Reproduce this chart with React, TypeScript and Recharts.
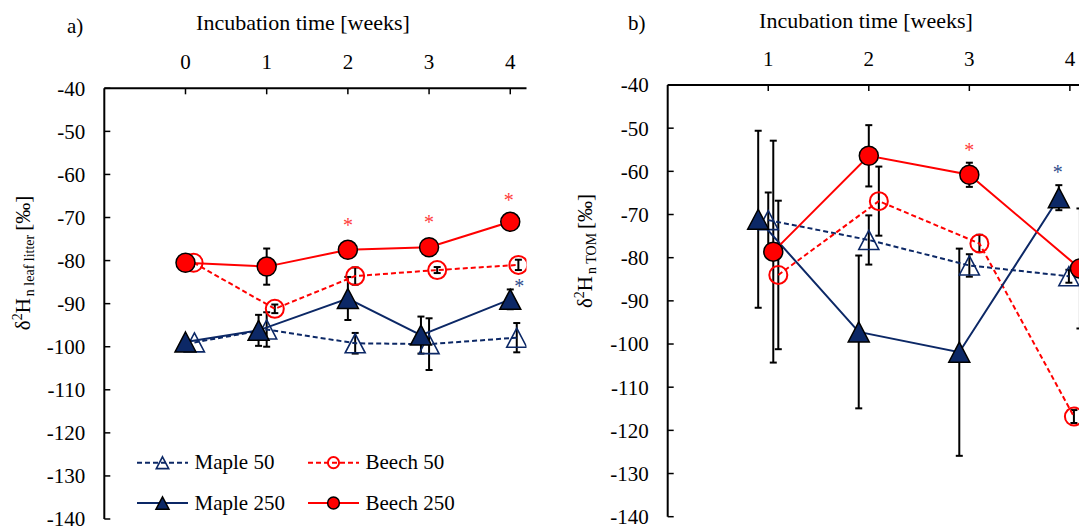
import React from 'react';
import { ComposedChart, Scatter, XAxis, YAxis, ErrorBar, Legend } from 'recharts';

const FONT = '"Liberation Serif", "Times New Roman", serif';
const NAVY = '#0c2866';
const NAVY_STAR = '#2f4c8c';
const RED = '#ff0000';
const RED_STAR = '#ff3b3b';

// shared axis ticks
const yTicks = [-140, -130, -120, -110, -100, -90, -80, -70, -60, -50, -40];
const weeksA = [0, 1, 2, 3, 4];
const weeksB = [1, 2, 3, 4];

// a) leaf litter  (x = week incl. small offset used in the figure)
const maple50AX = [0.11, 1.0, 2.09, 3.0, 4.08];
const maple50AY = [-99.0, -96.0, -99.2, -99.4, -97.9];
const maple50AErr = [0, 4.0, 2.4, 6.0, 3.4];

const beech50AX = [0.1, 1.1, 2.09, 3.1, 4.1];
const beech50AY = [-80.5, -91.2, -83.6, -82.2, -81.0];
const beech50AErr = [0, 1.0, 2.0, 0.7, 1.2];

const maple250AX = [0, 0.9, 2.0, 2.9, 4.0];
const maple250AY = [-98.9, -96.2, -88.8, -97.3, -89.0];
const maple250AErr = [0, 3.6, 5.0, 4.3, 2.3];

const beech250AX = [0, 1, 2, 3, 4];
const beech250AY = [-80.5, -81.4, -77.5, -76.9, -71.0];
const beech250AErr = [0, 4.2, 0, 0, 0];

const redStarsAX = [2, 3, 3.98];
const redStarsAY = [-71.2, -70.6, -65.4];
const navyStarsAX = [4.11];
const navyStarsAY = [-85.4];

// b) TOM
const maple50BX = [1.0, 2.0, 3.0, 3.99];
const maple50BY = [-71.3, -75.9, -81.8, -84.3];
const maple50BErr = [6.4, 5.7, 2.6, 1.5];

const beech50BX = [1.1, 2.1, 3.1, 4.04];
const beech50BY = [-84.0, -66.9, -76.7, -116.8];
const beech50BErr = [17.2, 8.0, 2.0, 1.5];

const maple250BX = [0.9, 1.9, 2.9, 3.89];
const maple250BY = [-71.1, -97.2, -101.9, -66.1];
const maple250BErr = [20.5, 17.7, 24.0, 2.9];

const beech250BX = [1.05, 2.0, 3.0, 4.1];
const beech250BY = [-78.6, -56.4, -60.8, -82.5];
const beech250BErr = [25.7, 7.1, 2.8, 13.9];

const redStarsBX = [3.0];
const redStarsBY = [-54.7];
const navyStarsBX = [3.88];
const navyStarsBY = [-59.7];

type Pt = { x: number; y: number; e: number };
const toPoints = (xs: number[], ys: number[], es?: number[]): Pt[] =>
  xs.map((x, i) => ({ x, y: ys[i], e: es ? es[i] : 0 }));

type Kind = 'openTri' | 'openCircle' | 'tri' | 'circle';

const triPath = (cx: number, cy: number, hw: number, hh: number) =>
  `M${cx},${cy - hh}L${cx + hw},${cy + hh}L${cx - hw},${cy + hh}Z`;

function Marker({ kind, cx, cy, s = 1 }: { kind: Kind; cx: number; cy: number; s?: number }) {
  if (kind === 'openTri')
    return <path d={triPath(cx, cy, 10 * s, 9.5 * s)} fill="none" stroke={NAVY} strokeWidth={1.6} />;
  if (kind === 'tri')
    return <path d={triPath(cx, cy, 10.5 * s, 10 * s)} fill={NAVY} stroke="#000" strokeWidth={1.5} />;
  if (kind === 'openCircle')
    return <circle cx={cx} cy={cy} r={9 * s} fill="none" stroke={RED} strokeWidth={2} />;
  return <circle cx={cx} cy={cy} r={9.5 * s} fill={RED} stroke="#000" strokeWidth={1.5} />;
}

const series = [
  { key: 'maple50', name: 'Maple 50', color: NAVY, dash: '5 3', kind: 'openTri' as Kind },
  { key: 'beech50', name: 'Beech 50', color: RED, dash: '5 3', kind: 'openCircle' as Kind },
  { key: 'maple250', name: 'Maple 250', color: NAVY, dash: undefined, kind: 'tri' as Kind },
  { key: 'beech250', name: 'Beech 250', color: RED, dash: undefined, kind: 'circle' as Kind },
];

const dataA: Record<string, Pt[]> = {
  maple50: toPoints(maple50AX, maple50AY, maple50AErr),
  beech50: toPoints(beech50AX, beech50AY, beech50AErr),
  maple250: toPoints(maple250AX, maple250AY, maple250AErr),
  beech250: toPoints(beech250AX, beech250AY, beech250AErr),
};

const dataB: Record<string, Pt[]> = {
  maple50: toPoints(maple50BX, maple50BY, maple50BErr),
  beech50: toPoints(beech50BX, beech50BY, beech50BErr),
  maple250: toPoints(maple250BX, maple250BY, maple250BErr),
  beech250: toPoints(beech250BX, beech250BY, beech250BErr),
};

const tickStyle = { fill: '#000', fontSize: 21, fontFamily: FONT };
const axisLineStyle = { stroke: '#000', strokeWidth: 2 };
const tickLineStyle = { stroke: '#000', strokeWidth: 1.5 };

function TopTitle({ tag, tagX, tagY, midX, baseY }: { tag: string; tagX: number; tagY: number; midX: number; baseY: number }) {
  return (
    <g fontFamily={FONT} fill="#000">
      <text x={tagX} y={tagY} fontSize={21}>{tag}</text>
      <text x={midX} y={baseY} fontSize={22} textAnchor="middle">Incubation time [weeks]</text>
    </g>
  );
}

function SideTitle({ atX, atY, sub }: { atX: number; atY: number; sub: string }) {
  return (
    <text transform={`translate(${atX},${atY}) rotate(-90)`} textAnchor="middle" fontFamily={FONT} fontSize={21} fill="#000">
      <tspan>δ</tspan>
      <tspan fontSize={14} dy={-8}>2</tspan>
      <tspan dy={8}>H</tspan>
      <tspan fontSize={14} dy={4} dx={2}>{sub}</tspan>
      <tspan dy={-4} dx={4}>[‰]</tspan>
    </text>
  );
}

const legendColX = [7, 178];
const legendRowY = [17.7, 58];

function LegendGraphic() {
  return (
    <svg width={360} height={75} style={{ overflow: 'visible' }}>
      {series.map((s, i) => {
        const x0 = legendColX[i % 2];
        const y0 = legendRowY[Math.floor(i / 2)];
        return (
          <g key={s.key}>
            <line x1={x0} x2={x0 + 51} y1={y0} y2={y0} stroke={s.color} strokeWidth={2} strokeDasharray={s.dash} />
            <Marker kind={s.kind} cx={x0 + 25.5} cy={y0} s={0.62} />
            <text x={x0 + 57.5} y={y0 + 6.5} fontFamily={FONT} fontSize={21} fill="#000">{s.name}</text>
          </g>
        );
      })}
    </svg>
  );
}

function SeriesLayer(data: Record<string, Pt[]>) {
  return series.map((s) => (
    <Scatter
      key={s.key}
      name={s.name}
      data={data[s.key]}
      isAnimationActive={false}
      line={{ stroke: s.color, strokeWidth: 2, strokeDasharray: s.dash }}
      lineType="joint"
      shape={(p: any) => <Marker kind={s.kind} cx={p.cx} cy={p.cy} />}
    >
      <ErrorBar dataKey="e" direction="y" width={3.5} stroke="#000" strokeWidth={2} isAnimationActive={false} />
    </Scatter>
  ));
}

const starShape = (color: string) => (p: any) => (
  <text x={p.cx} y={p.cy + 9} textAnchor="middle" fontFamily={FONT} fontSize={20} fill={color}>*</text>
);

function PanelA() {
  return (
    <ComposedChart width={540} height={527} margin={{ top: 0, right: 13.5, bottom: 8, left: 0 }}>
      <XAxis
        type="number"
        dataKey="x"
        orientation="top"
        domain={[-1, 4.2]}
        ticks={weeksA}
        interval={0}
        allowDataOverflow
        height={88.3}
        tickSize={-6}
        tickMargin={25}
        tick={tickStyle}
        axisLine={axisLineStyle}
        tickLine={tickLineStyle}
        label={<TopTitle tag="a)" tagX={67} tagY={33} midX={303} baseY={30} />}
      />
      <YAxis
        type="number"
        dataKey="y"
        domain={[-140, -40]}
        ticks={yTicks}
        interval={0}
        allowDataOverflow
        width={104.3}
        tickSize={-6}
        tickMargin={25}
        tick={tickStyle}
        axisLine={axisLineStyle}
        tickLine={tickLineStyle}
        label={<SideTitle atX={30} atY={263} sub="n leaf litter" />}
      />
      {SeriesLayer(dataA)}
      <Scatter data={toPoints(redStarsAX, redStarsAY)} isAnimationActive={false} shape={starShape(RED_STAR)} />
      <Scatter data={toPoints(navyStarsAX, navyStarsAY)} isAnimationActive={false} shape={starShape(NAVY_STAR)} />
      <Legend
        layout="horizontal"
        verticalAlign="middle"
        align="center"
        wrapperStyle={{ left: 130, top: 445, width: 360, height: 75 }}
        content={() => <LegendGraphic />}
      />
    </ComposedChart>
  );
}

function PanelB() {
  return (
    <ComposedChart width={560} height={527} margin={{ top: 0, right: 10, bottom: 10.3, left: 0 }}>
      <XAxis
        type="number"
        dataKey="x"
        orientation="top"
        domain={[0, 4.2]}
        ticks={weeksB}
        interval={0}
        allowDataOverflow
        height={85}
        tickSize={-6}
        tickMargin={25}
        tick={tickStyle}
        axisLine={axisLineStyle}
        tickLine={tickLineStyle}
        label={<TopTitle tag="b)" tagX={88} tagY={30} midX={326} baseY={28} />}
      />
      <YAxis
        type="number"
        dataKey="y"
        domain={[-140, -40]}
        ticks={yTicks}
        interval={0}
        allowDataOverflow
        width={127.7}
        tickSize={-6}
        tickMargin={25}
        tick={tickStyle}
        axisLine={axisLineStyle}
        tickLine={tickLineStyle}
        label={<SideTitle atX={52} atY={251} sub="n TOM" />}
      />
      {SeriesLayer(dataB)}
      <Scatter data={toPoints(redStarsBX, redStarsBY)} isAnimationActive={false} shape={starShape(RED_STAR)} />
      <Scatter data={toPoints(navyStarsBX, navyStarsBY)} isAnimationActive={false} shape={starShape(NAVY_STAR)} />
    </ComposedChart>
  );
}

export default function App() {
  return (
    <div style={{ position: 'fixed', left: 0, top: 0, width: 1079, height: 527, overflow: 'hidden', background: '#fff' }}>
      <div style={{ position: 'absolute', left: 0, top: 0 }}>
        <PanelA />
      </div>
      <div style={{ position: 'absolute', left: 540, top: 0 }}>
        <PanelB />
      </div>
    </div>
  );
}
